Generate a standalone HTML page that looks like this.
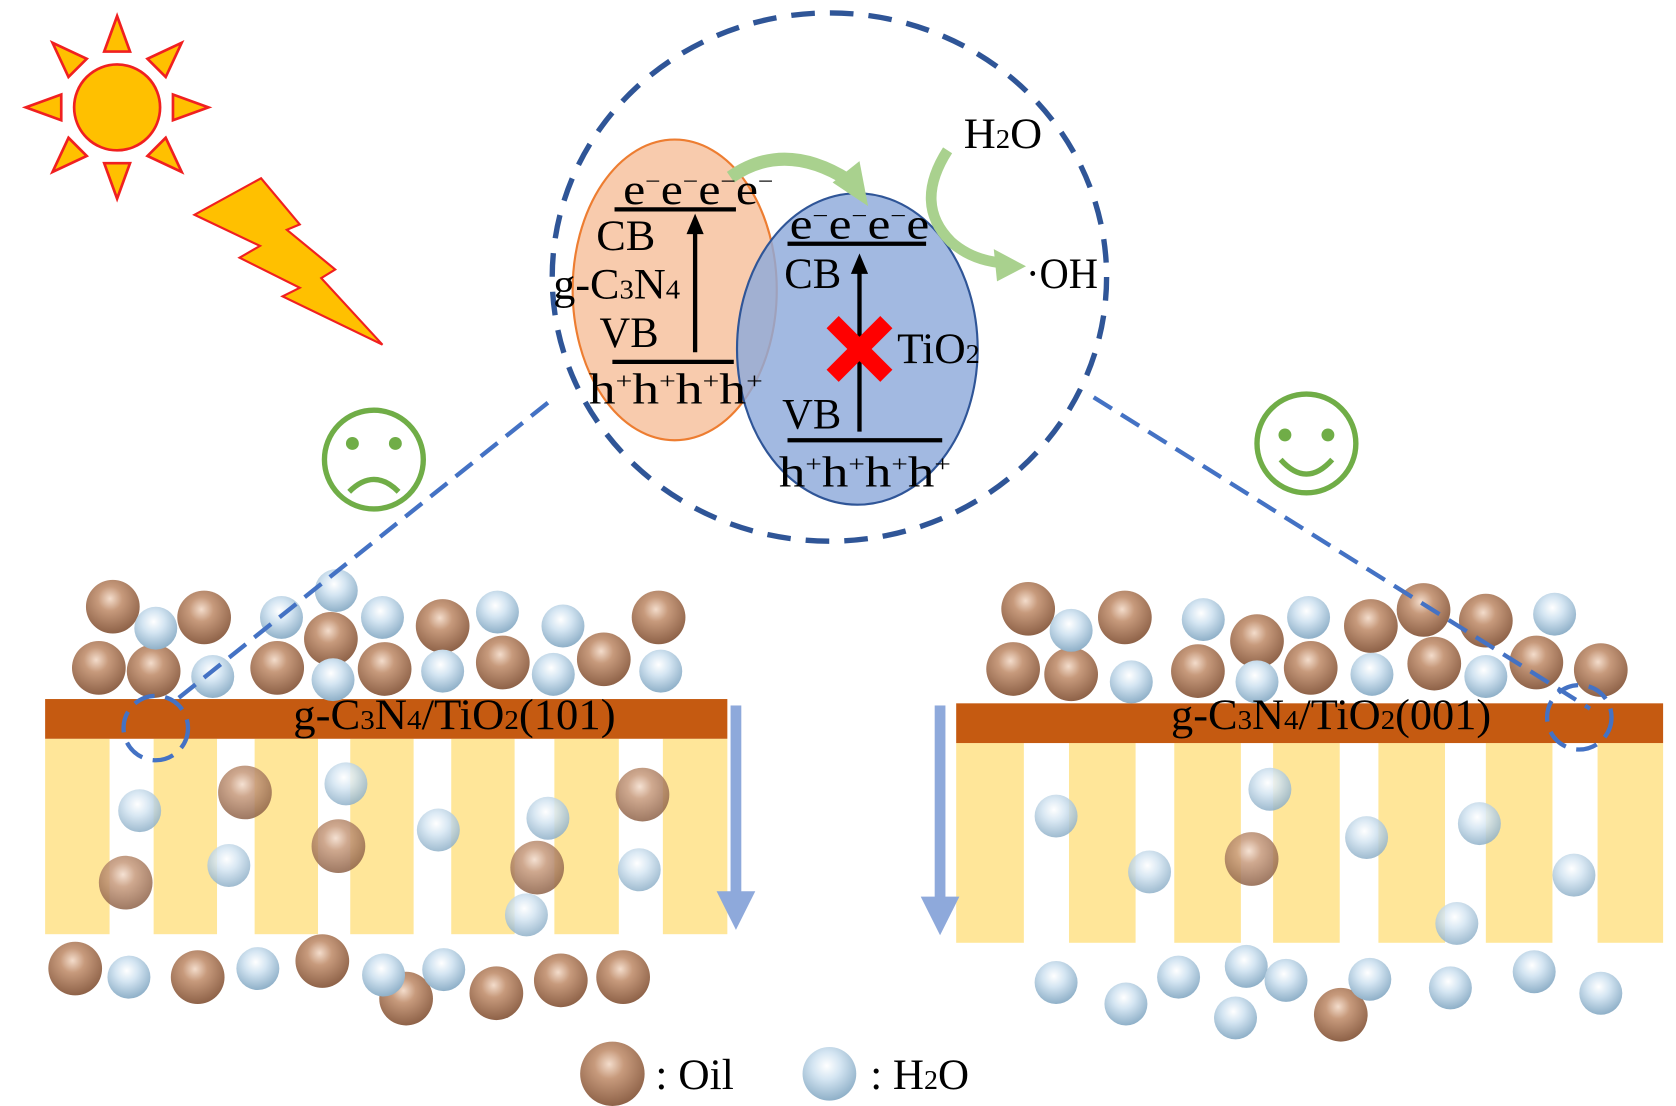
<!DOCTYPE html>
<html><head><meta charset="utf-8"><style>
html,body{margin:0;padding:0;background:#fff;}
svg{display:block;}
text{font-family:"Liberation Serif",serif;fill:#000;}
</style></head><body>
<svg width="1676" height="1106" viewBox="0 0 1560 1030" preserveAspectRatio="none" xmlns="http://www.w3.org/2000/svg">
<defs>
<radialGradient id="oil" cx="0.45" cy="0.35" r="0.65">
<stop offset="0" stop-color="#f3dccb"/><stop offset="0.35" stop-color="#c79a7c"/><stop offset="1" stop-color="#8e6248"/></radialGradient>
<radialGradient id="wat" cx="0.45" cy="0.35" r="0.65">
<stop offset="0" stop-color="#ffffff"/><stop offset="0.4" stop-color="#d4e5f2"/><stop offset="1" stop-color="#8fb0c8"/></radialGradient>
</defs>

<!-- sun -->
<g fill="#FFC000" stroke="#F02020" stroke-width="2.5">
<circle cx="109" cy="100" r="40"/>
<g transform="translate(109,100)">
<polygon points="-12,-52 12,-52 0,-85"/>
<polygon points="-12,52 12,52 0,85" />
<polygon points="-52,-12 -52,12 -85,0"/>
<polygon points="52,-12 52,12 85,0"/>
<g transform="rotate(45)"><polygon points="-12,-52 12,-52 0,-85"/><polygon points="-12,52 12,52 0,85"/><polygon points="-52,-12 -52,12 -85,0"/><polygon points="52,-12 52,12 85,0"/></g>
</g>
<polygon stroke-width="2" points="181,200 243,166 279,209 267,214 312,251 299,259 356,321 263,276 279,268 223,240 242,229"/>
</g>

<!-- big dashed circle -->
<ellipse cx="772" cy="258" rx="258" ry="246" fill="none" stroke="#2F5597" stroke-width="5" stroke-dasharray="22 14"/>

<!-- ellipses -->
<ellipse cx="628" cy="270" rx="95" ry="140" fill="#F8CBAD" stroke="#ED7D31" stroke-width="2"/>
<ellipse cx="798" cy="325" rx="112" ry="145" fill="#8EA9DB" fill-opacity="0.82" stroke="#2F5597" stroke-width="2"/>

<!-- green arrows -->
<path d="M680,165 Q730,130 790,168" fill="none" stroke="#A9D18E" stroke-width="12"/>
<polygon points="775,170 808,192 800,150" fill="#A9D18E"/>
<path d="M882,140 Q850,190 885,225 Q905,243 935,245" fill="none" stroke="#A9D18E" stroke-width="10"/>
<polygon points="925,232 955,248 928,262" fill="#A9D18E"/>

<!-- band lines and arrows -->
<g stroke="#000" stroke-width="4">
<line x1="572" y1="195" x2="685" y2="195"/>
<line x1="570" y1="337" x2="683" y2="337"/>
<line x1="733" y1="227" x2="862" y2="227"/>
<line x1="733" y1="410" x2="877" y2="410"/>
<line x1="647" y1="328" x2="647" y2="215"/>
<line x1="800" y1="402" x2="800" y2="252"/>
</g>
<polygon points="639,218 655,218 647,199" fill="#000"/>
<polygon points="792,255 808,255 800,236" fill="#000"/>

<!-- red X -->
<g stroke="#FF0000" stroke-width="16"><line x1="775" y1="300" x2="825" y2="350"/><line x1="825" y1="300" x2="775" y2="350"/></g>

<!-- texts -->
<g font-size="40">
<text x="580" y="190" textLength="140" lengthAdjust="spacingAndGlyphs">e<tspan dy="-14" font-size="22">−</tspan><tspan dy="14">e</tspan><tspan dy="-14" font-size="22">−</tspan><tspan dy="14">e</tspan><tspan dy="-14" font-size="22">−</tspan><tspan dy="14">e</tspan><tspan dy="-14" font-size="22">−</tspan></text>
<text x="555" y="233" textLength="55" lengthAdjust="spacingAndGlyphs">CB</text>
<text x="515" y="278" textLength="118" lengthAdjust="spacingAndGlyphs">g-C<tspan font-size="26">3</tspan>N<tspan font-size="26">4</tspan></text>
<text x="558" y="323" textLength="55" lengthAdjust="spacingAndGlyphs">VB</text>
<text x="548" y="376" textLength="162" lengthAdjust="spacingAndGlyphs">h<tspan dy="-14" font-size="22">+</tspan><tspan dy="14">h</tspan><tspan dy="-14" font-size="22">+</tspan><tspan dy="14">h</tspan><tspan dy="-14" font-size="22">+</tspan><tspan dy="14">h</tspan><tspan dy="-14" font-size="22">+</tspan></text>
<text x="735" y="222" textLength="130" lengthAdjust="spacingAndGlyphs">e<tspan dy="-14" font-size="22">−</tspan><tspan dy="14">e</tspan><tspan dy="-14" font-size="22">−</tspan><tspan dy="14">e</tspan><tspan dy="-14" font-size="22">−</tspan><tspan dy="14">e</tspan></text>
<text x="730" y="268" textLength="53" lengthAdjust="spacingAndGlyphs">CB</text>
<text x="835" y="338" textLength="77" lengthAdjust="spacingAndGlyphs">TiO<tspan font-size="26">2</tspan></text>
<text x="728" y="399" textLength="55" lengthAdjust="spacingAndGlyphs">VB</text>
<text x="725" y="453" textLength="160" lengthAdjust="spacingAndGlyphs">h<tspan dy="-14" font-size="22">+</tspan><tspan dy="14">h</tspan><tspan dy="-14" font-size="22">+</tspan><tspan dy="14">h</tspan><tspan dy="-14" font-size="22">+</tspan><tspan dy="14">h</tspan><tspan dy="-14" font-size="22">+</tspan></text>
<text x="897" y="138" textLength="73" lengthAdjust="spacingAndGlyphs">H<tspan font-size="26">2</tspan>O</text>
<text x="955" y="268" textLength="67" lengthAdjust="spacingAndGlyphs">·OH</text>
</g>

<!-- faces -->
<g fill="none" stroke="#70AD47" stroke-width="5">
<circle cx="348" cy="428" r="46"/>
<path d="M325,458 Q348,435 371,458"/>
<circle cx="1216" cy="413" r="46"/>
<path d="M1192,428 Q1216,455 1240,428"/>
</g>
<g fill="#70AD47"><circle cx="328" cy="413" r="6"/><circle cx="368" cy="413" r="6"/><circle cx="1196" cy="405" r="6"/><circle cx="1236" cy="405" r="6"/></g>

<!-- membranes -->
<g fill="#FFE699">
<rect x="42" y="688" width="60" height="182"/><rect x="143" y="688" width="59" height="182"/><rect x="237" y="688" width="59" height="182"/><rect x="326" y="688" width="59" height="182"/><rect x="420" y="688" width="59" height="182"/><rect x="516" y="688" width="60" height="182"/><rect x="617" y="688" width="60" height="182"/>
<rect x="890" y="692" width="63" height="186"/><rect x="995" y="692" width="62" height="186"/><rect x="1093" y="692" width="62" height="186"/><rect x="1185" y="692" width="62" height="186"/><rect x="1283" y="692" width="62" height="186"/><rect x="1383" y="692" width="62" height="186"/><rect x="1487" y="692" width="61" height="186"/>
</g>
<rect x="42" y="651" width="635" height="37" fill="#C55A11"/>
<rect x="890" y="655" width="658" height="37" fill="#C55A11"/>

<!-- blue arrows -->
<g fill="#8EA9DB"><rect x="680" y="657" width="10" height="175"/><polygon points="667,830 703,830 685,866"/>
<rect x="870" y="657" width="10" height="180"/><polygon points="857,835 893,835 875,871"/></g>

<!-- balls -->
<g fill="url(#oil)">
<circle cx="105" cy="565" r="25"/><circle cx="190" cy="575" r="25"/><circle cx="308" cy="595" r="25"/><circle cx="412" cy="583" r="25"/><circle cx="613" cy="575" r="25"/><circle cx="92" cy="622" r="25"/><circle cx="143" cy="625" r="25"/><circle cx="258" cy="622" r="25"/><circle cx="358" cy="623" r="25"/><circle cx="468" cy="617" r="25"/><circle cx="562" cy="614" r="25"/>
<circle cx="70" cy="902" r="25"/><circle cx="184" cy="910" r="25"/><circle cx="300" cy="895" r="25"/><circle cx="378" cy="930" r="25"/><circle cx="462" cy="925" r="25"/><circle cx="522" cy="913" r="25"/><circle cx="580" cy="910" r="25"/>
<circle cx="957" cy="567" r="25"/><circle cx="1047" cy="575" r="25"/><circle cx="1170" cy="597" r="25"/><circle cx="1276" cy="583" r="25"/><circle cx="1325" cy="568" r="25"/><circle cx="1383" cy="578" r="25"/><circle cx="943" cy="623" r="25"/><circle cx="997" cy="628" r="25"/><circle cx="1115" cy="625" r="25"/><circle cx="1220" cy="622" r="25"/><circle cx="1335" cy="618" r="25"/><circle cx="1430" cy="617" r="25"/><circle cx="1490" cy="624" r="25"/>
<circle cx="1248" cy="945" r="25"/>
<circle cx="570" cy="1000" r="30"/>
</g>
<g fill="url(#oil)" opacity="0.85">
<circle cx="228" cy="738" r="25"/><circle cx="598" cy="740" r="25"/><circle cx="315" cy="788" r="25"/><circle cx="500" cy="808" r="25"/><circle cx="117" cy="822" r="25"/><circle cx="1165" cy="800" r="25"/>
</g>
<g fill="url(#wat)">
<circle cx="145" cy="585" r="20"/><circle cx="262" cy="575" r="20"/><circle cx="313" cy="550" r="20"/><circle cx="356" cy="575" r="20"/><circle cx="463" cy="570" r="20"/><circle cx="524" cy="583" r="20"/><circle cx="198" cy="630" r="20"/><circle cx="310" cy="633" r="20"/><circle cx="412" cy="625" r="20"/><circle cx="515" cy="628" r="20"/><circle cx="615" cy="625" r="20"/>
<circle cx="120" cy="910" r="20"/><circle cx="240" cy="902" r="20"/><circle cx="357" cy="908" r="20"/><circle cx="413" cy="903" r="20"/>
<circle cx="997" cy="587" r="20"/><circle cx="1120" cy="577" r="20"/><circle cx="1218" cy="575" r="20"/><circle cx="1447" cy="572" r="20"/><circle cx="1053" cy="635" r="20"/><circle cx="1170" cy="635" r="20"/><circle cx="1277" cy="628" r="20"/><circle cx="1383" cy="630" r="20"/>
<circle cx="983" cy="915" r="20"/><circle cx="1048" cy="935" r="20"/><circle cx="1097" cy="910" r="20"/><circle cx="1160" cy="900" r="20"/><circle cx="1197" cy="913" r="20"/><circle cx="1275" cy="912" r="20"/><circle cx="1150" cy="948" r="20"/><circle cx="1350" cy="920" r="20"/><circle cx="1428" cy="905" r="20"/><circle cx="1490" cy="925" r="20"/>
<circle cx="772" cy="1000" r="25"/>
</g>
<g fill="url(#wat)" opacity="0.85">
<circle cx="130" cy="755" r="20"/><circle cx="322" cy="730" r="20"/><circle cx="408" cy="773" r="20"/><circle cx="510" cy="762" r="20"/><circle cx="213" cy="806" r="20"/><circle cx="595" cy="810" r="20"/><circle cx="490" cy="852" r="20"/>
<circle cx="983" cy="760" r="20"/><circle cx="1182" cy="735" r="20"/><circle cx="1070" cy="812" r="20"/><circle cx="1272" cy="780" r="20"/><circle cx="1377" cy="767" r="20"/><circle cx="1465" cy="815" r="20"/><circle cx="1356" cy="860" r="20"/>
</g>

<!-- dashed connector lines (on top) -->
<g stroke="#4472C4" stroke-width="4" stroke-dasharray="20 10" fill="none">
<line x1="510" y1="375" x2="160" y2="655"/>
<line x1="1018" y1="370" x2="1480" y2="660"/>
<circle cx="145" cy="678" r="30"/>
<circle cx="1470" cy="668" r="30"/>
</g>

<!-- labels -->
<g font-size="40">
<text x="273" y="679" textLength="300" lengthAdjust="spacingAndGlyphs">g-C<tspan font-size="26">3</tspan>N<tspan font-size="26">4</tspan>/TiO<tspan font-size="26">2</tspan>(101)</text>
<text x="1090" y="679" textLength="298" lengthAdjust="spacingAndGlyphs">g-C<tspan font-size="26">3</tspan>N<tspan font-size="26">4</tspan>/TiO<tspan font-size="26">2</tspan>(001)</text>
<text x="610" y="1014" textLength="73" lengthAdjust="spacingAndGlyphs">: Oil</text>
<text x="810" y="1014" textLength="92" lengthAdjust="spacingAndGlyphs">: H<tspan font-size="26">2</tspan>O</text>
</g>
</svg>
</body></html>
